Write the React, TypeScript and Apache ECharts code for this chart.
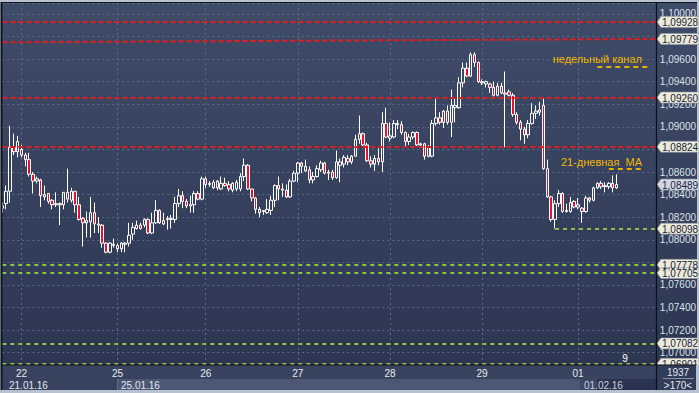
import React, { useEffect, useRef } from "react";
import * as echarts from "echarts";

// ---- time axis (hourly bars) ----
const daySegDates = ["21.01", "22.01", "24.01", "25.01", "26.01", "27.01", "28.01", "29.01", "31.01", "01.02"];
const daySegFirstHour = [19, 0, 23, 0, 0, 0, 0, 0, 23, 0];
const daySegBars = [5, 24, 1, 23, 24, 24, 24, 24, 1, 11];
const emptyTailHours = [11, 12, 13, 14, 15, 16, 17, 18, 19, 20];
const dateRowLabels = ["21.01.16", "25.01.16", "01.02.16"];

// ---- EURUSD H1 candles: [open, close, low, high] ----
const candles: number[][] = [
  [1.0828, 1.0830, 1.0824, 1.0833],
  [1.0832, 1.0843, 1.0827, 1.0848],
  [1.0843, 1.0882, 1.0833, 1.0901],
  [1.0882, 1.0878, 1.0875, 1.0894],
  [1.0878, 1.0887, 1.0873, 1.0892],
  [1.0880, 1.0875, 1.0873, 1.0884],
  [1.0875, 1.0871, 1.0865, 1.0877],
  [1.0871, 1.0858, 1.0856, 1.0877],
  [1.0858, 1.0852, 1.0841, 1.0860],
  [1.0852, 1.0854, 1.0850, 1.0856],
  [1.0853, 1.0839, 1.0829, 1.0854],
  [1.0838, 1.0840, 1.0835, 1.0848],
  [1.0841, 1.0834, 1.0832, 1.0841],
  [1.0835, 1.0831, 1.0827, 1.0836],
  [1.0831, 1.0832, 1.0829, 1.0842],
  [1.0832, 1.0831, 1.0813, 1.0833],
  [1.0831, 1.0842, 1.0827, 1.0842],
  [1.0842, 1.0836, 1.0833, 1.0863],
  [1.0835, 1.0843, 1.0833, 1.0846],
  [1.0843, 1.0831, 1.0824, 1.0843],
  [1.0831, 1.0818, 1.0817, 1.0838],
  [1.0819, 1.0815, 1.0794, 1.0820],
  [1.0815, 1.0817, 1.0802, 1.0825],
  [1.0816, 1.0824, 1.0802, 1.0838],
  [1.0824, 1.0814, 1.0806, 1.0833],
  [1.0813, 1.0814, 1.0806, 1.0820],
  [1.0813, 1.0797, 1.0793, 1.0814],
  [1.0797, 1.0789, 1.0788, 1.0798],
  [1.0789, 1.0797, 1.0788, 1.0798],
  [1.0796, 1.0795, 1.0793, 1.0801],
  [1.0795, 1.0792, 1.0789, 1.0797],
  [1.0792, 1.0797, 1.0789, 1.0798],
  [1.0796, 1.0797, 1.0789, 1.0798],
  [1.0797, 1.0804, 1.0794, 1.0815],
  [1.0805, 1.0811, 1.0800, 1.0815],
  [1.0810, 1.0813, 1.0809, 1.0817],
  [1.0813, 1.0810, 1.0809, 1.0815],
  [1.0813, 1.0818, 1.0811, 1.0819],
  [1.0818, 1.0806, 1.0805, 1.0819],
  [1.0806, 1.0815, 1.0805, 1.0824],
  [1.0815, 1.0826, 1.0814, 1.0835],
  [1.0826, 1.0815, 1.0814, 1.0827],
  [1.0814, 1.0817, 1.0813, 1.0824],
  [1.0818, 1.0819, 1.0809, 1.0821],
  [1.0819, 1.0818, 1.0810, 1.0822],
  [1.0818, 1.0832, 1.0815, 1.0838],
  [1.0832, 1.0839, 1.0829, 1.0845],
  [1.0839, 1.0834, 1.0828, 1.0843],
  [1.0834, 1.0830, 1.0828, 1.0836],
  [1.0830, 1.0831, 1.0824, 1.0839],
  [1.0831, 1.0841, 1.0824, 1.0843],
  [1.0841, 1.0836, 1.0835, 1.0843],
  [1.0836, 1.0854, 1.0835, 1.0856],
  [1.0854, 1.0849, 1.0846, 1.0856],
  [1.0849, 1.0850, 1.0847, 1.0852],
  [1.0846, 1.0851, 1.0845, 1.0853],
  [1.0852, 1.0846, 1.0844, 1.0853],
  [1.0845, 1.0850, 1.0844, 1.0856],
  [1.0850, 1.0848, 1.0847, 1.0855],
  [1.0849, 1.0845, 1.0843, 1.0852],
  [1.0844, 1.0850, 1.0842, 1.0851],
  [1.0845, 1.0851, 1.0843, 1.0853],
  [1.0845, 1.0856, 1.0843, 1.0859],
  [1.0856, 1.0866, 1.0852, 1.0872],
  [1.0866, 1.0845, 1.0844, 1.0867],
  [1.0845, 1.0837, 1.0834, 1.0845],
  [1.0837, 1.0827, 1.0823, 1.0838],
  [1.0827, 1.0824, 1.0820, 1.0829],
  [1.0825, 1.0826, 1.0822, 1.0826],
  [1.0824, 1.0827, 1.0823, 1.0836],
  [1.0826, 1.0835, 1.0822, 1.0839],
  [1.0835, 1.0848, 1.0829, 1.0849],
  [1.0848, 1.0845, 1.0835, 1.0856],
  [1.0844, 1.0845, 1.0838, 1.0850],
  [1.0844, 1.0838, 1.0837, 1.0849],
  [1.0838, 1.0852, 1.0837, 1.0854],
  [1.0852, 1.0859, 1.0851, 1.0861],
  [1.0859, 1.0868, 1.0851, 1.0869],
  [1.0868, 1.0865, 1.0859, 1.0869],
  [1.0861, 1.0865, 1.0860, 1.0871],
  [1.0862, 1.0853, 1.0850, 1.0865],
  [1.0853, 1.0856, 1.0850, 1.0860],
  [1.0856, 1.0863, 1.0855, 1.0866],
  [1.0862, 1.0868, 1.0860, 1.0870],
  [1.0868, 1.0859, 1.0858, 1.0869],
  [1.0860, 1.0859, 1.0853, 1.0862],
  [1.0860, 1.0855, 1.0853, 1.0862],
  [1.0855, 1.0869, 1.0854, 1.0879],
  [1.0866, 1.0869, 1.0851, 1.0872],
  [1.0867, 1.0873, 1.0864, 1.0875],
  [1.0872, 1.0869, 1.0866, 1.0875],
  [1.0869, 1.0874, 1.0867, 1.0875],
  [1.0874, 1.0889, 1.0874, 1.0893],
  [1.0889, 1.0894, 1.0885, 1.0910],
  [1.0894, 1.0884, 1.0883, 1.0895],
  [1.0884, 1.0870, 1.0869, 1.0886],
  [1.0870, 1.0867, 1.0864, 1.0874],
  [1.0867, 1.0872, 1.0861, 1.0875],
  [1.0872, 1.0869, 1.0866, 1.0881],
  [1.0869, 1.0903, 1.0860, 1.0913],
  [1.0903, 1.0891, 1.0890, 1.0917],
  [1.0890, 1.0892, 1.0887, 1.0904],
  [1.0891, 1.0903, 1.0890, 1.0906],
  [1.0903, 1.0902, 1.0898, 1.0906],
  [1.0902, 1.0895, 1.0893, 1.0905],
  [1.0895, 1.0887, 1.0882, 1.0896],
  [1.0887, 1.0891, 1.0884, 1.0894],
  [1.0891, 1.0895, 1.0889, 1.0896],
  [1.0895, 1.0884, 1.0883, 1.0896],
  [1.0884, 1.0885, 1.0883, 1.0886],
  [1.0885, 1.0874, 1.0871, 1.0886],
  [1.0874, 1.0882, 1.0873, 1.0884],
  [1.0874, 1.0903, 1.0873, 1.0906],
  [1.0903, 1.0908, 1.0901, 1.0926],
  [1.0908, 1.0904, 1.0902, 1.0913],
  [1.0904, 1.0914, 1.0899, 1.0915],
  [1.0914, 1.0904, 1.0902, 1.0919],
  [1.0904, 1.0919, 1.0891, 1.0933],
  [1.0917, 1.0919, 1.0904, 1.0926],
  [1.0917, 1.0939, 1.0916, 1.0944],
  [1.0939, 1.0952, 1.0935, 1.0957],
  [1.0952, 1.0945, 1.0944, 1.0957],
  [1.0945, 1.0964, 1.0944, 1.0966],
  [1.0964, 1.0957, 1.0953, 1.0966],
  [1.0957, 1.0940, 1.0939, 1.0958],
  [1.0940, 1.0939, 1.0937, 1.0942],
  [1.0938, 1.0940, 1.0935, 1.0941],
  [1.0938, 1.0935, 1.0930, 1.0939],
  [1.0935, 1.0928, 1.0927, 1.0940],
  [1.0928, 1.0936, 1.0927, 1.0939],
  [1.0936, 1.0930, 1.0929, 1.0939],
  [1.0930, 1.0929, 1.0882, 1.0949],
  [1.0931, 1.0928, 1.0927, 1.0933],
  [1.0928, 1.0911, 1.0909, 1.0930],
  [1.0911, 1.0904, 1.0902, 1.0913],
  [1.0904, 1.0898, 1.0888, 1.0906],
  [1.0898, 1.0893, 1.0885, 1.0900],
  [1.0893, 1.0903, 1.0890, 1.0906],
  [1.0903, 1.0912, 1.0902, 1.0921],
  [1.0912, 1.0914, 1.0907, 1.0919],
  [1.0913, 1.0915, 1.0910, 1.0922],
  [1.0919, 1.0863, 1.0862, 1.0925],
  [1.0863, 1.0838, 1.0837, 1.0871],
  [1.0838, 1.0818, 1.0816, 1.0839],
  [1.0818, 1.0832, 1.0810, 1.0835],
  [1.0832, 1.0841, 1.0829, 1.0844],
  [1.0841, 1.0825, 1.0824, 1.0842],
  [1.0825, 1.0826, 1.0824, 1.0832],
  [1.0825, 1.0833, 1.0824, 1.0838],
  [1.0834, 1.0829, 1.0828, 1.0835],
  [1.0829, 1.0831, 1.0827, 1.0837],
  [1.0828, 1.0825, 1.0815, 1.0829],
  [1.0825, 1.0837, 1.0824, 1.0839],
  [1.0837, 1.0835, 1.0833, 1.0838],
  [1.0835, 1.0846, 1.0834, 1.0847],
  [1.0846, 1.0850, 1.0845, 1.0851],
  [1.0850, 1.0847, 1.0845, 1.0852],
  [1.0847, 1.0848, 1.0842, 1.0851],
  [1.0847, 1.0850, 1.0845, 1.0851],
  [1.0850, 1.0846, 1.0842, 1.0857],
  [1.0846, 1.08489, 1.0845, 1.0858],
];

// ---- levels ----
const redLevels = [1.09928, 1.0926, 1.08824];
const channelStart = [0, 1.09749];
const channelEnd = [170, 1.09779];
const greenLevels = [1.07778, 1.07705, 1.07082, 1.06901];
const supportLevel = 1.08098;
const supportFromIndex = 144;
const weeklyMark = [155, 169, 1.09531];
const maMark = [158, 167, 1.08627];
const tagLevels = [1.09928, 1.09779, 1.0926, 1.08824, 1.08098, 1.07778, 1.07705, 1.07082, 1.06901];
const yMin = 1.06891;
const yMax = 1.10097;
const barsTotal = "1937";
const barsVisible = ">170<";

const categories: string[] = [];
daySegDates.forEach((d, k) => {
  for (let j = 0; j < daySegBars[k]; j++) {
    const h = daySegFirstHour[k] + j;
    categories.push(d + " " + String(h).padStart(2, "0") + ":00");
  }
});
emptyTailHours.forEach((h) => categories.push("01.02 " + String(h).padStart(2, "0") + ":00"));
const lastIndex = categories.length - 1;
const isDayStart = (i: number) => !!categories[i] && categories[i].endsWith(" 00:00");
const fmt = (v: number) => v.toFixed(5).replace(".", ",");
// axis labels that sit right under a price tag are covered by it in the original
const coveredByTag = (v: number) => tagLevels.some((t) => Math.abs(t - v) < 0.0004);

const FONT = '"Liberation Sans", Arial, sans-serif';

export default function App() {
  const ref = useRef<HTMLDivElement>(null);
  useEffect(() => {
    document.body.style.margin = "0";
    const chart = echarts.init(ref.current!, undefined, { renderer: "svg" });
    const red = { color: "#e41c1c", width: 2, type: [5, 3] as any };
    const green = { color: "#8cc04a", width: 2, type: [4, 4] as any };
    const yellow = { color: "#e6b000", width: 2, type: [5, 4] as any };
    const seg = (a: number, b: number, v1: number, v2: number, ls: any) => [
      { coord: [categories[a], v1], lineStyle: ls },
      { coord: [categories[b], v2] },
    ];
    chart.setOption({
      animation: false,
      grid: { left: 2.3, top: 3, width: 652.8, height: 362, show: false },
      xAxis: [
        {
          type: "category",
          data: categories,
          boundaryGap: false,
          axisLine: { show: false },
          axisTick: { show: false },
          axisLabel: { show: false },
          splitLine: { show: true, interval: (i: number) => isDayStart(i), lineStyle: { color: "#5a6989", width: 1, type: [2, 3] } },
        },
        {
          type: "category",
          data: categories,
          boundaryGap: false,
          position: "bottom",
          z: 10,
          axisLine: { show: false },
          axisTick: { show: false },
          splitLine: { show: false },
          axisLabel: {
            show: true,
            interval: (i: number) => isDayStart(i),
            formatter: (v: string) => v.slice(0, 2),
            color: "#e6e9ef",
            fontSize: 10,
            fontFamily: FONT,
            margin: 3,
          },
        },
      ],
      yAxis: {
        type: "value",
        position: "right",
        min: yMin,
        max: yMax,
        splitNumber: 16,
        axisLine: { show: false },
        axisTick: { show: false },
        splitLine: { show: true, lineStyle: { color: "#5a6989", width: 1, type: [2, 3] } },
        axisLabel: {
          color: "#dde2ea",
          fontSize: 10,
          fontFamily: FONT,
          margin: 5,
          formatter: (v: number) => (coveredByTag(v) ? "" : fmt(v)),
          showMinLabel: false,
          showMaxLabel: false,
        },
      },
      series: [
        {
          type: "candlestick",
          xAxisIndex: 0,
          data: candles,
          barWidth: 3,
          itemStyle: {
            color: "rgba(0,0,0,0)",
            color0: "#e8122f",
            borderColor: "#ffffff",
            borderColor0: "#ffffff",
            borderColorDoji: "#ffffff",
            borderWidth: 1,
          },
          markLine: {
            silent: true,
            symbol: ["none", "none"],
            label: { show: false },
            animation: false,
            data: [
              ...redLevels.map((v) => seg(0, lastIndex, v, v, red)),
              seg(channelStart[0], channelEnd[0], channelStart[1], channelEnd[1], red),
              ...greenLevels.map((v) => seg(0, lastIndex, v, v, green)),
              seg(supportFromIndex, lastIndex, supportLevel, supportLevel, green),
              seg(weeklyMark[0], weeklyMark[1], weeklyMark[2], weeklyMark[2], yellow),
              seg(maMark[0], maMark[1], maMark[2], maMark[2], yellow),
            ],
          },
        },
      ],
    });

    const py = (v: number) => chart.convertToPixel({ yAxisIndex: 0 }, v) as number;
    const tag = (v: number, fill: string) => {
      const y = py(v);
      return {
        type: "group",
        z: 5,
        children: [
          {
            type: "polygon",
            z: 5,
            shape: { points: [[657, y], [661, y - 5.5], [699, y - 5.5], [699, y + 5.5], [661, y + 5.5]] },
            style: { fill, stroke: "#8e95a3", lineWidth: 0.6 },
          },
          {
            type: "text",
            z: 6,
            x: 662,
            y: y + 0.5,
            style: { text: fmt(v), fill: "#17223d", font: "10px " + FONT, textVerticalAlign: "middle", textAlign: "left" },
          },
        ],
      };
    };
    const txt = (t: string, x: number, y: number, fill: string, size: number, align = "left", z = 12) => ({
      type: "text",
      z,
      x,
      y,
      style: { text: t, fill, font: size + "px " + FONT, textAlign: align, textVerticalAlign: "middle" },
    });
    const rect = (x: number, y: number, w: number, h: number, fill: any, z: number) => ({
      type: "rect",
      z,
      shape: { x, y, width: w, height: h },
      style: { fill },
    });
    const ln = (x1: number, y1: number, x2: number, y2: number, stroke: string, w: number, z: number) => ({
      type: "line",
      z,
      shape: { x1, y1, x2, y2 },
      style: { stroke, lineWidth: w },
    });
    const grad = new echarts.graphic.LinearGradient(0, 0, 0, 1, [
      { offset: 0, color: "#3f4c69" },
      { offset: 1, color: "#2b3550" },
    ]);
    const last = candles[candles.length - 1][1];

    chart.setOption({
      graphic: [
        rect(0, 0, 699, 393, "#b7c1cf", -30),
        rect(2, 3, 695, 388, grad, -29),
        ln(698, 0, 698, 393, "#b7c1cf", 2, -28),
        // x-axis area
        rect(2, 365, 695, 14, "#38445f", 8),
        rect(2, 379, 115, 12, "#36425e", 8),
        rect(117, 379, 463, 12, "#4b5775", 8),
        rect(580, 379, 17, 12, "#3d4966", 8),
        rect(597, 379, 60, 12, "#2a3450", 8),
        rect(657, 366, 40, 25, "#313c58", 8),
        ln(117.5, 379, 117.5, 391, "#5e6a86", 1, 9),
        // frame lines
        ln(1.5, 2, 1.5, 391, "#10151f", 2, 9),
        ln(1, 2.5, 697, 2.5, "#10151f", 1, 9),
        ln(656.5, 3, 656.5, 391, "#0c1018", 1.2, 9),
        ln(2, 365, 697, 365, "#0c1018", 1.2, 9),
        ln(0, 391.5, 699, 391.5, "#b7c1cf", 3, 9),
        ln(697.5, 365, 697.5, 393, "#b7c1cf", 3, 9),
        // date row
        txt(dateRowLabels[0], 9, 385.5, "#e3e7ee", 10),
        txt(dateRowLabels[1], 121, 385.5, "#e3e7ee", 10),
        txt(dateRowLabels[2], 584, 385.5, "#c9cfdb", 10),
        // bottom right info
        txt(barsTotal, 678, 372, "#e3e7ee", 10, "center"),
        ln(663, 378.5, 694, 378.5, "#8390a8", 1, 12),
        txt(barsVisible, 678, 385.5, "#e3e7ee", 10, "center"),
        // annotations
        txt("недельный канал", 642, 58.5, "#f2b600", 11, "right", 6),
        txt("21-дневная  MA", 642, 161.5, "#f2b600", 11, "right", 6),
        txt("9", 625, 358, "#ffffff", 10, "center", 6),
        // price tags
        ...tagLevels.map((v) => tag(v, "#ecead8")),
        tag(last, "#d3d7e2"),
      ],
    });
    return () => chart.dispose();
  }, []);
  return <div ref={ref} style={{ width: 699, height: 393 }} />;
}
